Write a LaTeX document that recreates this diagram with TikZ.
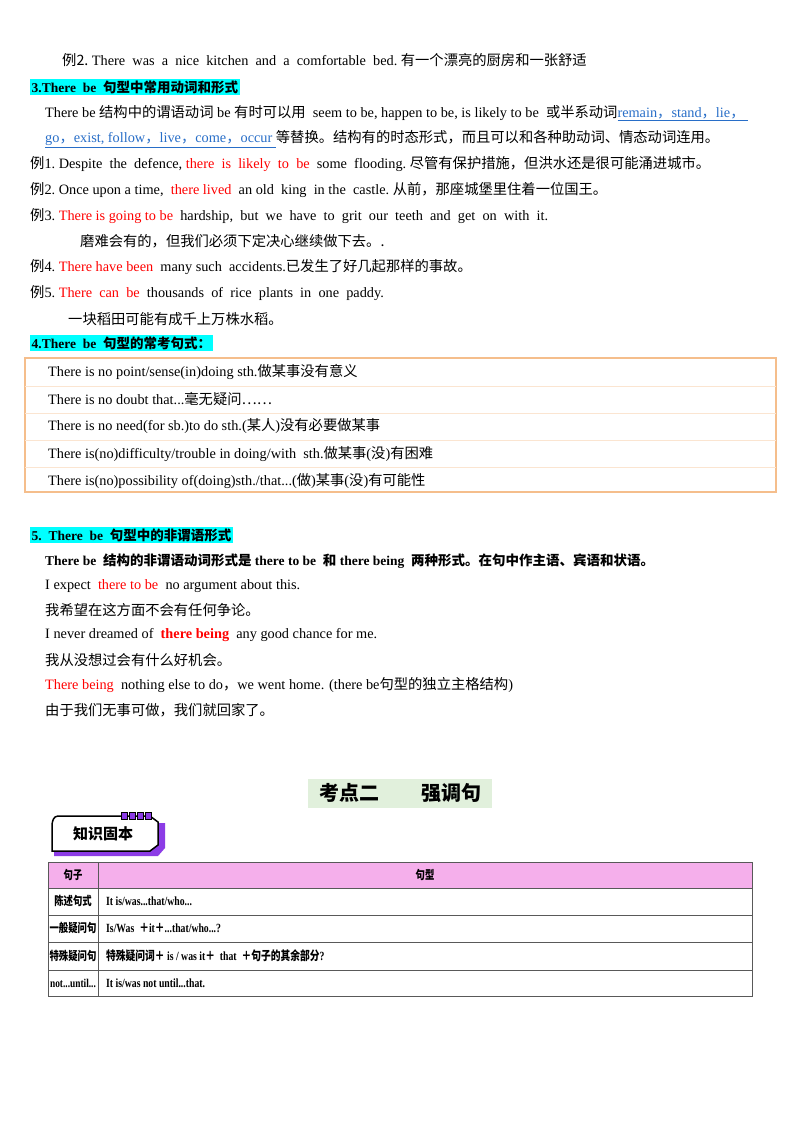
\documentclass[tikz,border=0pt]{standalone}
\usepackage{fontspec}
\usepackage{graphicx}
\setmainfont{Liberation Serif}
\newfontfamily\cjk{Noto Sans CJK SC}
\newcommand{\zh}[1]{{\cjk #1}}
\newcommand{\nar}[1]{\scalebox{0.78}[1]{#1}}
\definecolor{hl}{RGB}{0,255,255}
\definecolor{lnk}{RGB}{40,110,200}
\definecolor{org}{RGB}{245,190,140}
\definecolor{pinkh}{RGB}{245,175,235}
\definecolor{grn}{RGB}{225,240,220}
\definecolor{purp}{RGB}{140,60,230}
\begin{document}
\begin{tikzpicture}[x=1pt,y=-1pt,
 t/.style={anchor=west,inner sep=0pt,font=\fontsize{14.3}{16}\selectfont},
 h/.style={anchor=west,inner sep=1.5pt,fill=hl,font=\fontsize{13.5}{16}\selectfont\bfseries},
 c/.style={anchor=center,inner sep=0pt,font=\fontsize{12}{14}\selectfont\bfseries},
 d/.style={anchor=west,inner sep=0pt,font=\fontsize{12.5}{14}\selectfont\bfseries}]
\useasboundingbox (0,0) rectangle (800,1132);
\fill[white] (0,0) rectangle (800,1132);
\node[t] (l1) at (62,60) {\zh{例2.}\ There\ \ was\ \ a\ \ nice\ \ kitchen\ \ and\ \ a\ \ comfortable\ \ bed.\ \zh{有一个漂亮的厨房和一张舒适}};
\node[h] (h3) at (30,87) {3.There\ \ be\ \ \zh{句型中常用动词和形式}};
\node[t] (l2) at (45,113) {There be\ \zh{结构中的谓语动词}\ be\ \zh{有时可以用}\ \ seem to be,\ happen to be,\ is likely to\ be\ \ \zh{或半系动词}\textcolor{lnk}{\underline{remain\zh{，}stand\zh{，}lie\zh{，}\ }}};
\node[t] (l3) at (45,139) {\textcolor{lnk}{\underline{go\zh{，}exist,\ follow\zh{，}live\zh{，}come\zh{，}occur\ }}\zh{等替换。结构有的时态形式，而且可以和各种助动词、情态动词连用。}};
\node[t] (e1) at (30,164) {\zh{例}1.\ Despite\ \ the\ \ defence,\ \textcolor{red}{there\ \ is\ \ likely\ \ to\ \ be}\ \ some\ \ flooding.\ \zh{尽管有保护措施，但洪水还是很可能涌进城市。}};
\node[t] (e2) at (30,190) {\zh{例}2.\ Once upon a time,\ \ \textcolor{red}{there lived}\ \ an old\ \ king\ \ in the\ \ castle.\ \zh{从前，那座城堡里住着一位国王。}};
\node[t] (e3) at (30,216) {\zh{例}3.\ \textcolor{red}{There is going to be}\ \ hardship,\ \ but\ \ we\ \ have\ \ to\ \ grit\ \ our\ \ teeth\ \ and\ \ get\ \ on\ \ with\ \ it.};
\node[t] (e3b) at (80,241) {\zh{磨难会有的，但我们必须下定决心继续做下去。.}};
\node[t] (e4) at (30,267) {\zh{例}4.\ \textcolor{red}{There have been}\ \ many such\ \ accidents.\zh{已发生了好几起那样的事故。}};
\node[t] (e5) at (30,293) {\zh{例}5.\ \textcolor{red}{There\ \ can\ \ be}\ \ thousands\ \ of\ \ rice\ \ plants\ \ in\ \ one\ \ paddy.};
\node[t] (e5b) at (68,319) {\zh{一块稻田可能有成千上万株水稻。}};
\node[h] (h4) at (30,343) {4.There\ \ be\ \ \zh{句型的常考句式：}};
\draw[org,line width=1.5pt] (25,358) rectangle (776,492);
\foreach \yy in {386,413,440,467} \draw[org!40,line width=0.6pt] (25,\yy) -- (776,\yy);
\node[t] (b1) at (48,372) {There is no point/sense(in)doing sth.\zh{做某事没有意义}};
\node[t] (b2) at (48,399) {There is no doubt that...\zh{毫无疑问……}};
\node[t] (b3) at (48,426) {There is no need(for sb.)to do sth.(\zh{某人})\zh{没有必要做某事}};
\node[t] (b4) at (48,454) {There is(no)difficulty/trouble in doing/with\ \ sth.\zh{做某事}(\zh{没})\zh{有困难}};
\node[t] (b5) at (48,481) {There is(no)possibility of(doing)sth./that...(\zh{做})\zh{某事}(\zh{没})\zh{有可能性}};
\node[h] (h5) at (30,535) {5.\ \ There\ \ be\ \ \zh{句型中的非谓语形式}};
\node[t,font=\fontsize{13.5}{16}\selectfont\bfseries] (n1) at (45,561) {There be\ \ \zh{结构的非谓语动词形式是}\ there to be\ \ \zh{和}\ there being\ \ \zh{两种形式。在句中作主语、宾语和状语。}};
\node[t] (n2) at (45,586) {I expect\ \ \textcolor{red}{there to be}\ \ no argument about this.};
\node[t] (n3) at (45,610) {\zh{我希望在这方面不会有任何争论。}};
\node[t] (n4) at (45,635) {I never dreamed of\ \ \textcolor{red}{\bfseries there being}\ \ any good chance for me.};
\node[t] (n5) at (45,660) {\zh{我从没想过会有什么好机会。}};
\node[t] (n6) at (45,685) {\textcolor{red}{There being}\ \ nothing else to do\zh{，}we went home. (there be\zh{句型的独立主格结构})};
\node[t] (n7) at (45,710) {\zh{由于我们无事可做，我们就回家了。}};
\fill[grn] (308,779) rectangle (492,808);
\node[anchor=center,inner sep=0pt,font=\fontsize{20}{22}\selectfont\cjk\bfseries] (title) at (400,793) {考点二\hspace{42pt}强调句};
\fill[purp] (54,823) -- (165,823) -- (165,848) -- (158,856) -- (54,856) -- cycle;
\draw[line width=1.5pt,fill=white] (58,816) -- (150,816) -- (158,822) -- (158,845) -- (150,851) -- (52,851) -- (52,826) to[out=90,in=180] (58,816) -- cycle;
\foreach \xx in {124,132,140,148} \draw[fill=purp,line width=0.6pt] (\xx-3,812) rectangle (\xx+3,819);
\node[anchor=center,inner sep=0pt,font=\fontsize{15}{17}\selectfont\cjk\bfseries] (badge) at (103,834) {知识固本};
\fill[pinkh] (48,862) rectangle (752,888);
\draw[gray!70!black,line width=0.8pt] (48,862) rectangle (752,996);
\foreach \yy in {888,915,942,970} \draw[gray!70!black,line width=0.8pt] (48,\yy) -- (752,\yy);
\draw[gray!70!black,line width=0.8pt] (98,862) -- (98,996);
\node[c] (c00) at (73,875) {\nar{\zh{句子}}};
\node[c] (c01) at (425,875) {\nar{\zh{句型}}};
\node[c] (c10) at (73,901) {\nar{\zh{陈述句式}}};
\node[c] (c20) at (73,928) {\nar{\zh{一般疑问句}}};
\node[c] (c30) at (73,956) {\nar{\zh{特殊疑问句}}};
\node[c] (c40) at (73,983) {\nar{not...until...}};
\node[d] (c11) at (106,901) {\nar{It is/was...that/who...}};
\node[d] (c21) at (106,928) {\nar{Is/Was\ \ \zh{＋}it\zh{＋}...that/who...?}};
\node[d] (c31) at (106,956) {\nar{\zh{特殊疑问词＋}\ is / was it\zh{＋}\ \ that\ \ \zh{＋句子的其余部分}?}};
\node[d] (c41) at (106,983) {\nar{It is/was not until...that.}};
\end{tikzpicture}
\end{document}
